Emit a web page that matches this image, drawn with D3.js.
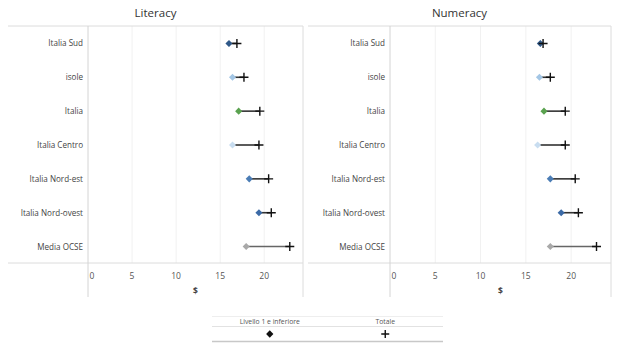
<!DOCTYPE html>
<html lang="it">
<head>
<meta charset="UTF-8">
<title>Literacy / Numeracy</title>
<script src="https://d3js.org/d3.v7.min.js"></script>
<style>
  body { margin: 0; background: #fff; }
  text { font-family: "Open Sans", "Noto Sans", sans-serif; }
</style>
</head>
<body>
<div id="chart"></div>
<script>
const regions = ["Italia Sud", "isole", "Italia", "Italia Centro", "Italia Nord-est", "Italia Nord-ovest", "Media OCSE"];
const regionColors = ["#2f5888", "#a3c6e5", "#5aa24f", "#c8ddf0", "#4b7db5", "#3b6aa6", "#a9a9a9"];
const literacyLow = [16.0, 16.4, 17.1, 16.4, 18.3, 19.4, 17.95];
const literacyTot = [16.9, 17.7, 19.5, 19.4, 20.5, 20.8, 22.9];
const numeracyLow = [16.6, 16.5, 17.0, 16.3, 17.7, 18.9, 17.7];
const numeracyTot = [16.9, 17.7, 19.35, 19.35, 20.45, 20.8, 22.8];
const xTicks = [0, 5, 10, 15, 20];
const legendLabels = ["Livello 1 e inferiore", "Totale"];

const width = 636, height = 352;
const plotTop = 26, axisY = 263, plotBottom = 297;

const svg = d3.select("#chart").append("svg")
  .attr("width", width).attr("height", height);

const panels = [
  { title: "Literacy", left: 8, plotLeft: 88, right: 303, low: literacyLow, tot: literacyTot },
  { title: "Numeracy", left: 308, plotLeft: 390, right: 611, low: numeracyLow, tot: numeracyTot }
];

const y = d3.scaleBand().domain(regions).range([plotTop, axisY]);

const diamond = d3.symbol().type(d3.symbolDiamond2).size(32);

function plus(g, s) {
  g.append("path")
    .attr("d", `M${-s},0H${s}M0,${-s}V${s}`)
    .attr("stroke", "#111").attr("stroke-width", 1.4).attr("fill", "none");
}

panels.forEach(p => {
  const x = d3.scaleLinear().domain([0, 24.4]).range([p.plotLeft, p.right]);
  const g = svg.append("g");

  g.append("text")
    .attr("x", (p.left + p.right) / 2).attr("y", 17)
    .attr("text-anchor", "middle").attr("font-size", 11.5).attr("fill", "#333")
    .text(p.title);

  // grid lines
  g.selectAll(".grid").data(xTicks.slice(1)).join("line")
    .attr("x1", d => x(d)).attr("x2", d => x(d))
    .attr("y1", plotTop).attr("y2", axisY)
    .attr("stroke", "#f1f1f1");

  // borders
  g.append("line").attr("x1", p.left).attr("x2", p.right).attr("y1", plotTop).attr("y2", plotTop).attr("stroke", "#dcdcdc");
  g.append("line").attr("x1", p.left).attr("x2", p.right).attr("y1", axisY).attr("y2", axisY).attr("stroke", "#dcdcdc");
  g.append("line").attr("x1", p.plotLeft).attr("x2", p.plotLeft).attr("y1", plotTop).attr("y2", plotBottom).attr("stroke", "#d4d4d4");
  g.append("line").attr("x1", p.right).attr("x2", p.right).attr("y1", plotTop).attr("y2", plotBottom).attr("stroke", "#dcdcdc");

  // row labels
  g.selectAll(".rl").data(regions).join("text")
    .attr("x", p.plotLeft - 5).attr("y", d => y(d) + y.bandwidth() / 2 + 3.5)
    .attr("text-anchor", "end").attr("font-size", 8.1).attr("fill", "#444")
    .text(d => d);

  // x tick labels
  g.selectAll(".tl").data(xTicks).join("text")
    .attr("x", d => d === 0 ? x(d) + 1.5 : x(d))
    .attr("y", 279)
    .attr("text-anchor", d => d === 0 ? "start" : "middle")
    .attr("font-size", 8.5).attr("fill", "#555")
    .text(d => d);

  g.append("text")
    .attr("x", (p.plotLeft + p.right) / 2).attr("y", 294)
    .attr("text-anchor", "middle").attr("font-size", 8.5).attr("font-weight", "bold").attr("fill", "#444")
    .text("$");

  regions.forEach((r, i) => {
    const cy = y(r) + y.bandwidth() / 2 + 0.5;
    g.append("line")
      .attr("x1", x(p.low[i])).attr("x2", x(p.tot[i]))
      .attr("y1", cy).attr("y2", cy)
      .attr("stroke", r === "Media OCSE" ? "#666" : "#333").attr("stroke-width", 1.6);
    g.append("path")
      .attr("d", diamond())
      .attr("transform", `translate(${x(p.low[i])},${cy})`)
      .attr("fill", regionColors[i]);
    const pg = g.append("g").attr("transform", `translate(${x(p.tot[i])},${cy})`);
    plus(pg, 4.5);
  });
});

// legend
const lg = svg.append("g");
const lx = d3.scaleBand().domain(legendLabels).range([212, 443]);
lg.append("line").attr("x1", 212).attr("x2", 443).attr("y1", 316.5).attr("y2", 316.5).attr("stroke", "#eee");
lg.append("line").attr("x1", 212).attr("x2", 443).attr("y1", 326.5).attr("y2", 326.5).attr("stroke", "#e2e2e2");
lg.append("line").attr("x1", 212).attr("x2", 443).attr("y1", 341.5).attr("y2", 341.5).attr("stroke", "#c8c8c8").attr("stroke-width", 1.5);
lg.selectAll(".lt").data(legendLabels).join("text")
  .attr("x", d => lx(d) + lx.bandwidth() / 2).attr("y", 324)
  .attr("text-anchor", "middle").attr("font-size", 6.8).attr("fill", "#555")
  .text(d => d);
lg.append("path")
  .attr("d", d3.symbol().type(d3.symbolDiamond2).size(34)())
  .attr("transform", `translate(${lx(legendLabels[0]) + lx.bandwidth() / 2},334)`)
  .attr("fill", "#111");
plus(lg.append("g").attr("transform", `translate(${lx(legendLabels[1]) + lx.bandwidth() / 2},334)`), 4);
</script>
</body>
</html>
